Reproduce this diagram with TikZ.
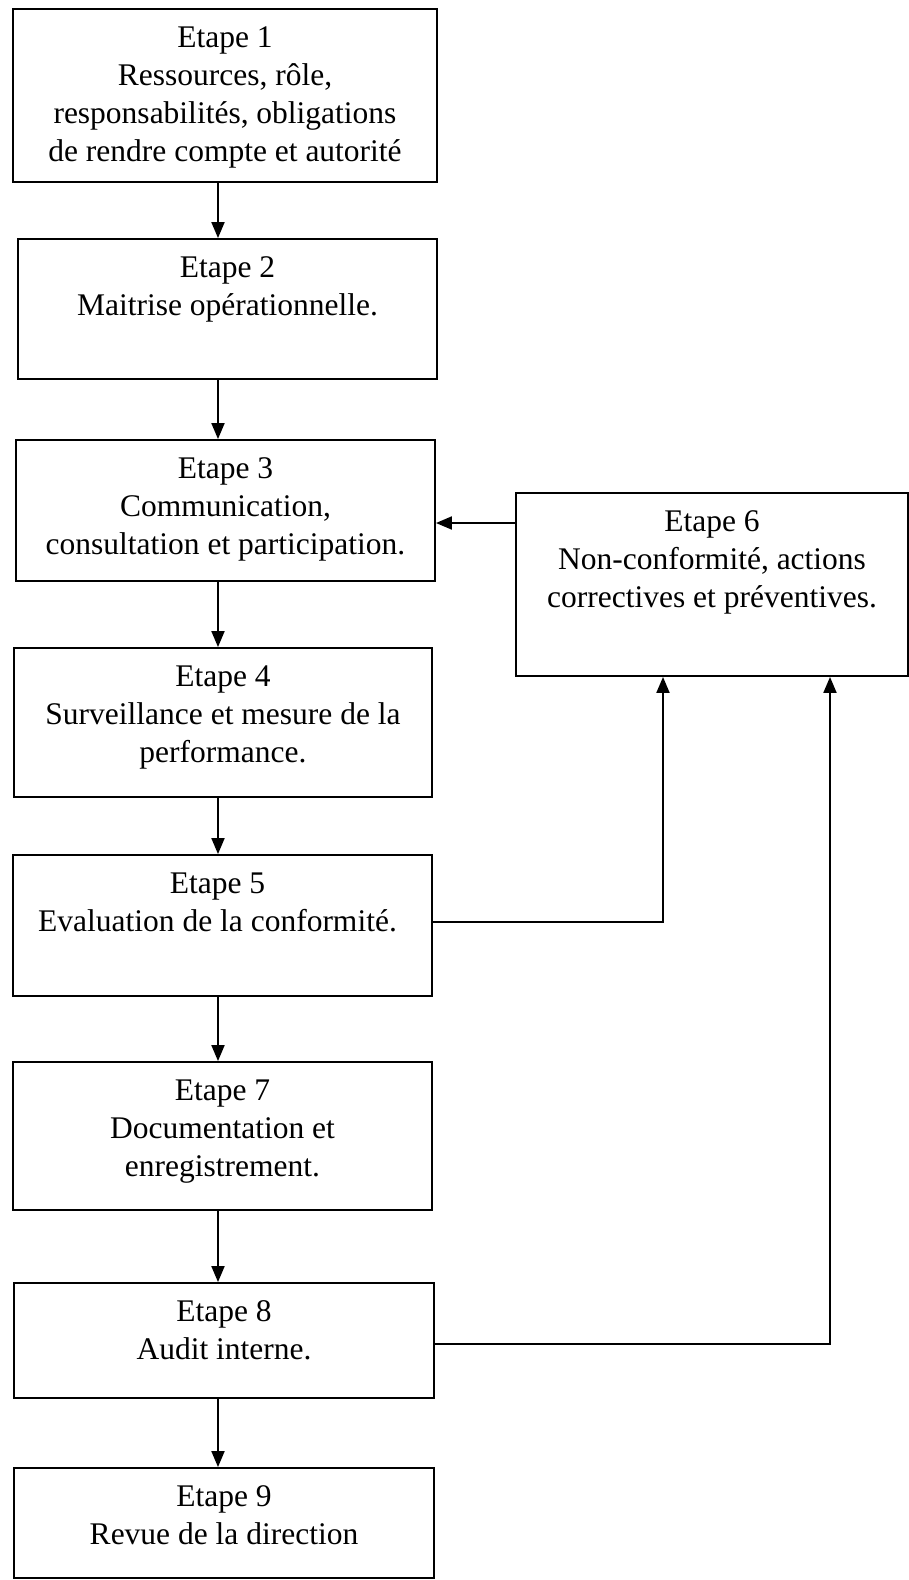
\documentclass[tikz,border=0pt]{standalone}
\usepackage{fontspec}
\setmainfont{Liberation Serif}
\usetikzlibrary{arrows.meta,calc}

\begin{document}
\begin{tikzpicture}[x=1pt,y=-1pt,
  box/.style={draw, line width=1.9pt, inner sep=0pt},
  txt/.style={align=center, inner sep=0pt, anchor=north, yshift=-18.7pt,
    font=\fontsize{31.5}{38}\selectfont},
  arr/.style={line width=2pt, -{Triangle[length=16pt,width=13pt]}}]
\useasboundingbox (0,0) rectangle (909,1580);

% step boxes
\node[box, minimum width=424pt, minimum height=173pt] (b1) at (225,95.5) {};
\node[box, minimum width=419pt, minimum height=140pt] (b2) at (227.5,309) {};
\node[box, minimum width=419pt, minimum height=141pt] (b3) at (225.5,510.5) {};
\node[box, minimum width=418pt, minimum height=149pt] (b4) at (223,722.5) {};
\node[box, minimum width=419pt, minimum height=141pt] (b5) at (222.5,925.5) {};
\node[box, minimum width=392pt, minimum height=183pt] (b6) at (712,584.5) {};
\node[box, minimum width=419pt, minimum height=148pt] (b7) at (222.5,1136) {};
\node[box, minimum width=420pt, minimum height=115pt] (b8) at (224,1340.5) {};
\node[box, minimum width=420pt, minimum height=110pt] (b9) at (224,1523) {};

% box texts
\node[txt] (t1) at (b1.north) {Etape 1\\Ressources, rôle,\\responsabilités, obligations\\de rendre compte et autorité};
\node[txt] (t2) at (b2.north) {Etape 2\\Maitrise opérationnelle.};
\node[txt] (t3) at (b3.north) {Etape 3\\Communication,\\consultation et participation.};
\node[txt] (t4) at (b4.north) {Etape 4\\Surveillance et mesure de la\\performance.};
\node[txt] (t5) at ([xshift=-5pt]b5.north) {Etape 5\\Evaluation de la conformité.};
\node[txt] (t6) at (b6.north) {Etape 6\\Non-conformité, actions\\correctives et préventives.};
\node[txt] (t7) at (b7.north) {Etape 7\\Documentation et\\enregistrement.};
\node[txt] (t8) at (b8.north) {Etape 8\\Audit interne.};
\node[txt] (t9) at (b9.north) {Etape 9\\Revue de la direction};

% routing coordinates
\coordinate (col) at (218,0);
\coordinate (r3) at (0,523);
\coordinate (r5) at (0,922);
\coordinate (r8) at (0,1344);
\coordinate (c5) at (663,0);
\coordinate (c8) at (830,0);

% main chain
\draw[arr] (b1.south -| col) -- (b2.north -| col);
\draw[arr] (b2.south -| col) -- (b3.north -| col);
\draw[arr] (b3.south -| col) -- (b4.north -| col);
\draw[arr] (b4.south -| col) -- (b5.north -| col);
\draw[arr] (b5.south -| col) -- (b7.north -| col);
\draw[arr] (b7.south -| col) -- (b8.north -| col);
\draw[arr] (b8.south -| col) -- (b9.north -| col);

% feedback loops
\draw[arr] (b6.west |- r3) -- (b3.east |- r3);
\draw[arr] (b5.east |- r5) -| (b6.south -| c5);
\draw[arr] (b8.east |- r8) -| (b6.south -| c8);
\end{tikzpicture}
\end{document}
